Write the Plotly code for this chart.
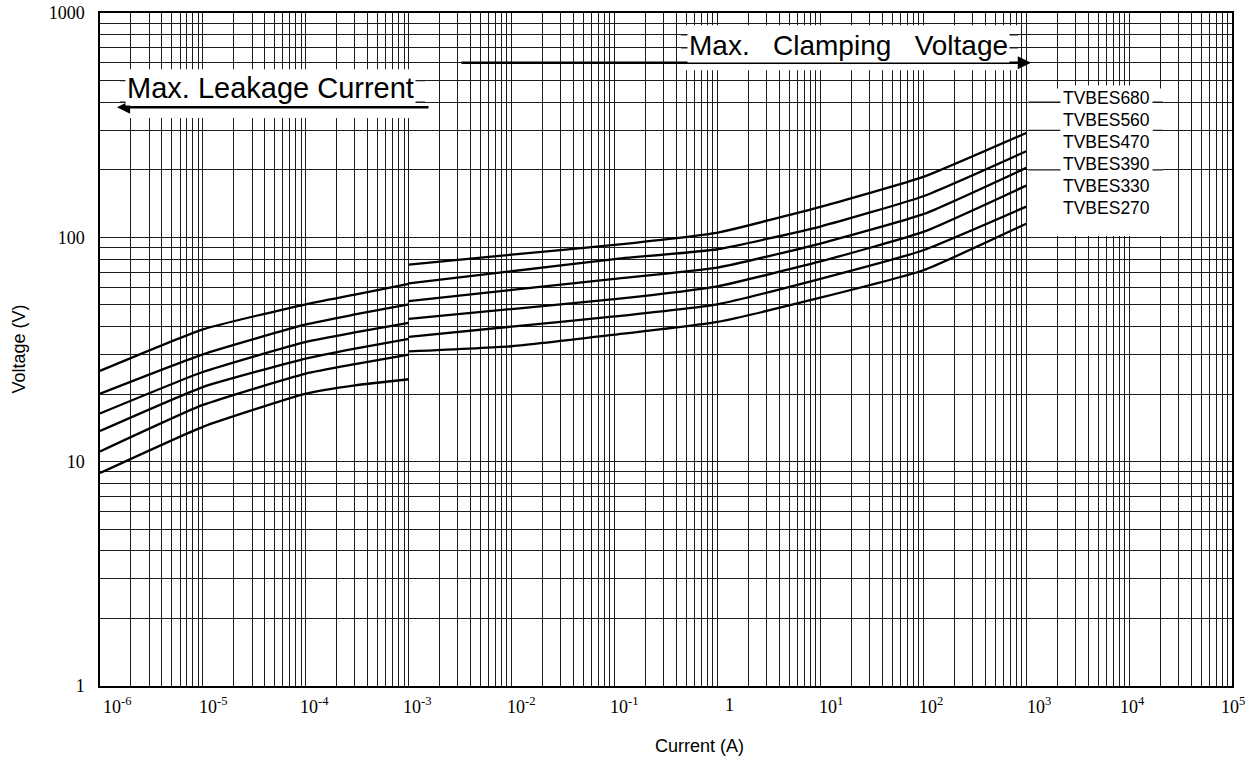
import math
import plotly.graph_objects as go

# ---------------- data ----------------
series_names = ["TVBES680", "TVBES560", "TVBES470", "TVBES390", "TVBES330", "TVBES270"]

# Max. leakage current region (current in A, voltage in V)
leak_current = [1e-6, 1e-5, 1e-4, 3e-4, 1e-3]
leak_680 = [25.4, 38.9, 50.3, 55.5, 62.0]
leak_560 = [20.1, 30.1, 40.9, 45.3, 50.3]
leak_470 = [16.4, 25.1, 34.2, 37.7, 41.6]
leak_390 = [13.7, 21.5, 28.8, 31.9, 35.3]
leak_330 = [11.1, 17.9, 24.7, 27.2, 30.0]
leak_270 = [8.9, 14.3, 20.1, 21.9, 23.3]

# Max. clamping voltage region
clamp_current = [1e-3, 1e-2, 1e-1, 1, 10, 100, 1000]
clamp_680 = [75.5, 83.7, 92.5, 105.0, 136.8, 186.0, 292.0]
clamp_560 = [62.3, 70.6, 80.0, 88.5, 111.7, 152.5, 242.0]
clamp_470 = [52.0, 58.3, 65.3, 73.3, 93.8, 126.8, 204.0]
clamp_390 = [43.3, 47.9, 53.0, 60.5, 78.1, 105.7, 170.0]
clamp_330 = [36.0, 40.0, 44.4, 50.3, 65.3, 87.6, 137.0]
clamp_270 = [31.0, 32.7, 36.8, 42.0, 53.8, 71.3, 115.0]

leak_series = [leak_680, leak_560, leak_470, leak_390, leak_330, leak_270]
clamp_series = [clamp_680, clamp_560, clamp_470, clamp_390, clamp_330, clamp_270]

x_tick_values = [1e-6, 1e-5, 1e-4, 1e-3, 1e-2, 1e-1, 1, 10, 100, 1000, 1e4, 1e5]
x_tick_labels = ["10<sup>-6</sup>", "10<sup>-5</sup>", "10<sup>-4</sup>", "10<sup>-3</sup>",
                 "10<sup>-2</sup>", "10<sup>-1</sup>", "1", "10<sup>1</sup>", "10<sup>2</sup>",
                 "10<sup>3</sup>", "10<sup>4</sup>", "10<sup>5</sup>"]
y_tick_values = [1, 10, 100, 1000]
y_tick_labels = ["1", "10", "100", "1000"]

x_title = "Current (A)"
y_title = "Voltage (V)"
leak_text = "Max. Leakage Current"
clamp_text = "Max.&nbsp;&nbsp; Clamping&nbsp;&nbsp; Voltage"

# ---------------- styles ----------------
X_LOG = (-6, 5)
Y_LOG = (0, 3)
PLOT_W = 1132
GRID = "#1c1c1c"
GRID_W = 1.3
SANS = "Liberation Sans, Arial, sans-serif"
SERIF = "Liberation Serif, Times New Roman, serif"


def fx(v):
    return (math.log10(v) - X_LOG[0]) / (X_LOG[1] - X_LOG[0])


def fy(v):
    return (math.log10(v) - Y_LOG[0]) / (Y_LOG[1] - Y_LOG[0])


fig = go.Figure()
for name, lv, cv in zip(series_names, leak_series, clamp_series):
    fig.add_trace(go.Scatter(
        x=leak_current + [None] + clamp_current,
        y=lv + [None] + cv,
        mode="lines", name=name, showlegend=False,
        line=dict(color="black", width=2.3, shape="spline", smoothing=0.45),
        hoverinfo="x+y+name",
    ))

# white label areas (hide grid) ; x in A, y in V
boxes = [
    dict(x0=1.56e-6, x1=1.44e-3, y0=340, y1=561),
    dict(x0=0.443, x1=834, y0=556, y1=881),
    dict(x0=1050, x1=21400, y0=101.5, y1=461),
]
grid_values = [d * 10 ** k for k in range(0, 3) for d in range(1, 10)]
shapes = []
for b in boxes:
    shapes.append(dict(type="rect", xref="paper", yref="paper",
                       x0=fx(b["x0"]), x1=fx(b["x1"]), y0=fy(b["y0"]), y1=fy(b["y1"]),
                       fillcolor="white", line=dict(width=0), layer="above"))
    for g in grid_values:
        if b["y0"] < g < b["y1"]:
            shapes.append(dict(type="line", xref="paper", yref="paper",
                               x0=fx(b["x0"]), x1=fx(b["x1"]), y0=fy(g), y1=fy(g),
                               line=dict(color=GRID, width=GRID_W), layer="above"))

annotations = []
# arrows
annotations.append(dict(xref="paper", yref="paper", axref="pixel", ayref="pixel",
                        x=fx(1.46e-6), y=fy(380),
                        ax=(fx(1.61e-3) - fx(1.46e-6)) * PLOT_W, ay=0,
                        text="", showarrow=True, arrowhead=2, arrowsize=1.1, arrowwidth=2.4,
                        arrowcolor="black"))
annotations.append(dict(xref="paper", yref="paper", axref="pixel", ayref="pixel",
                        x=fx(1113), y=fy(600),
                        ax=(fx(3.15e-3) - fx(1113)) * PLOT_W, ay=0,
                        text="", showarrow=True, arrowhead=2, arrowsize=1.1, arrowwidth=2.4,
                        arrowcolor="black"))
# region texts
annotations.append(dict(xref="paper", yref="paper", x=fx(4.49e-5), y=fy(461),
                        xanchor="center", yanchor="middle",
                        text=leak_text, showarrow=False, bgcolor="white", borderpad=1,
                        font=dict(family=SANS, size=29, color="black")))
annotations.append(dict(xref="paper", yref="paper", x=fx(18.6), y=fy(718),
                        xanchor="center", yanchor="middle",
                        text=clamp_text, showarrow=False, bgcolor="white", borderpad=1,
                        font=dict(family=SANS, size=28, color="black")))
# series labels
for i, name in enumerate(series_names):
    annotations.append(dict(xref="paper", yref="paper", x=fx(5984), y=fy(417),
                            xanchor="center", yanchor="middle",
                            yshift=-21.9 * i, text=name, showarrow=False,
                            bgcolor="white", borderpad=2,
                            font=dict(family=SANS, size=17.5, color="black")))
# x tick labels
label_shift = [17, 11, 9, 9, 10, 10, 12, 11, 8, 13, 3, 1]
for v, t, s in zip(x_tick_values, x_tick_labels, label_shift):
    annotations.append(dict(xref="paper", yref="paper", x=fx(v), y=0, xshift=s,
                            yshift=-19, xanchor="center", yanchor="middle",
                            text=t, showarrow=False,
                            font=dict(family=SERIF, size=18, color="black")))
# axis titles
annotations.append(dict(xref="paper", yref="paper", x=0.53, y=0, yshift=-60,
                        xanchor="center", yanchor="middle", text=x_title, showarrow=False,
                        font=dict(family=SANS, size=18, color="black")))
annotations.append(dict(xref="paper", yref="paper", x=0, xshift=-82, y=0.5,
                        xanchor="center", yanchor="middle", textangle=-90,
                        text=y_title, showarrow=False,
                        font=dict(family=SANS, size=18, color="black")))

fig.update_layout(
    width=1250, height=764,
    margin=dict(l=100, r=18, t=13, b=78, autoexpand=False),
    paper_bgcolor="white", plot_bgcolor="white",
    shapes=shapes, annotations=annotations,
    showlegend=False,
)
fig.update_xaxes(
    type="log", range=list(X_LOG), dtick=1, showticklabels=False, ticks="",
    showgrid=True, gridcolor=GRID, gridwidth=GRID_W,
    minor=dict(dtick="D1", showgrid=True, gridcolor=GRID, gridwidth=GRID_W, ticks=""),
    showline=True, linecolor="black", linewidth=1.5, mirror=True, zeroline=False,
)
fig.update_yaxes(
    type="log", range=list(Y_LOG), tickvals=y_tick_values, ticktext=y_tick_labels,
    ticks="", ticklabelstandoff=10,
    tickfont=dict(family=SERIF, size=18, color="black"),
    showgrid=True, gridcolor=GRID, gridwidth=GRID_W,
    minor=dict(dtick="D1", showgrid=True, gridcolor=GRID, gridwidth=GRID_W, ticks=""),
    showline=True, linecolor="black", linewidth=1.5, mirror=True, zeroline=False,
    automargin=False,
)

fig.write_html("out.html", config={"displayModeBar": False},
               post_script="document.body.style.margin='0px';")
